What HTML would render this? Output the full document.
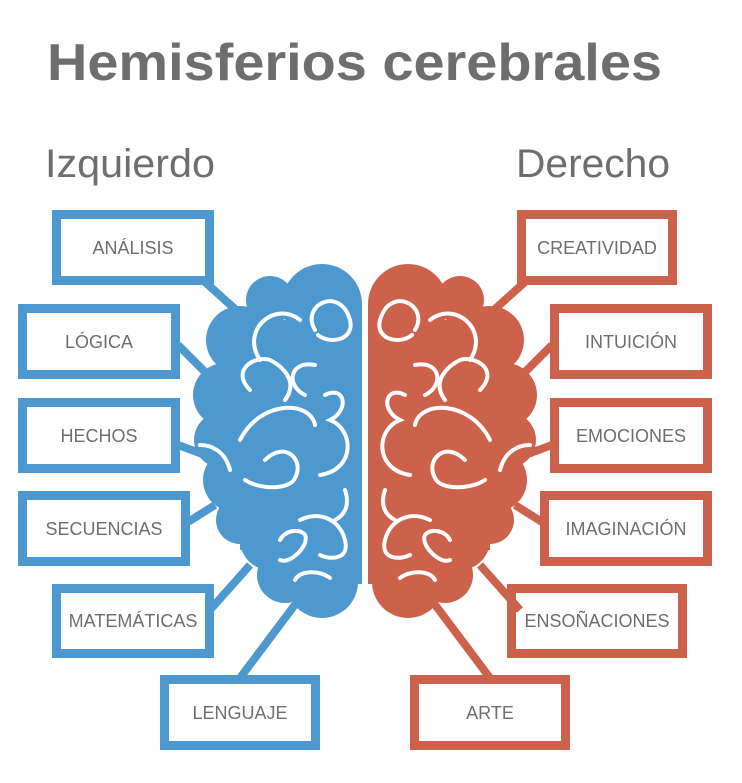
<!DOCTYPE html>
<html><head><meta charset="utf-8"><style>
html,body{margin:0;padding:0;background:#fff;}
svg{display:block;}
text{font-family:"Liberation Sans",sans-serif;fill:#6e6e6e;}
</style></head><body>
<svg width="742" height="783" viewBox="0 0 742 783" xmlns="http://www.w3.org/2000/svg">
<text x="47" y="80" font-size="52" font-weight="bold" textLength="615" lengthAdjust="spacingAndGlyphs" fill="#757575">Hemisferios cerebrales</text>
<text x="45" y="177" font-size="40" textLength="170" lengthAdjust="spacingAndGlyphs">Izquierdo</text>
<text x="516" y="177" font-size="40" textLength="154" lengthAdjust="spacingAndGlyphs">Derecho</text>

<defs>
<clipPath id="half"><rect x="0" y="0" width="362" height="783"/></clipPath>
<g id="brain">
 <g clip-path="url(#half)">
  <circle cx="322" cy="304" r="40"/>
  <circle cx="270" cy="300" r="24"/>
  <circle cx="240" cy="340" r="34"/>
  <circle cx="225" cy="395" r="32"/>
  <circle cx="222" cy="440" r="28"/>
  <circle cx="235" cy="480" r="32"/>
  <circle cx="240" cy="520" r="24"/>
  <circle cx="270" cy="540" r="30"/>
  <circle cx="285" cy="575" r="28"/>
  <circle cx="322" cy="582" r="36"/>
  <rect x="300" y="304" width="62" height="280"/>
  <rect x="240" y="320" width="122" height="230"/>
 </g>
  <g fill="none" stroke="#fff" stroke-width="4" stroke-linecap="round">
    <path d="M315 330 C300 305 340 285 350 320 C355 340 330 345 318 335"/>
    <path d="M260 360 C240 330 275 300 300 320"/>
    <path d="M250 390 C230 370 255 355 270 360 C280 365 300 380 285 400"/>
    <path d="M315 365 C290 360 285 385 305 395"/>
    <path d="M325 395 C345 385 350 410 330 420 C355 430 355 470 320 475"/>
    <path d="M240 440 C260 400 310 400 315 425"/>
    <path d="M230 470 C225 450 210 445 200 445"/>
    <path d="M265 460 C285 440 305 460 295 478 C290 490 260 490 245 480"/>
    <path d="M300 520 C320 510 340 520 345 540 C350 560 330 560 320 555"/>
    <path d="M345 490 C350 505 345 515 335 520"/>
    <path d="M280 540 C285 530 300 528 305 535 C310 545 290 565 280 560"/>
    <path d="M295 580 C300 570 320 570 330 578"/>
  </g>
</g>
</defs>
<use href="#brain" fill="#4c98cf"/>
<use href="#brain" fill="#cd624c" transform="translate(730,0) scale(-1,1)"/>

<g stroke-width="8" fill="none">
<g stroke="#4c98cf">
  <line x1="205" y1="282" x2="245" y2="318"/>
  <line x1="178" y1="345" x2="205" y2="372"/>
  <line x1="178" y1="445" x2="205" y2="455"/>
  <line x1="188" y1="522" x2="215" y2="505"/>
  <line x1="210" y1="610" x2="250" y2="565"/>
  <line x1="240" y1="678" x2="300" y2="598"/>
  <rect x="56.5" y="214.5" width="153" height="66" stroke-width="9"/>
  <rect x="22.5" y="308.5" width="153" height="66" stroke-width="9"/>
  <rect x="22.5" y="402.5" width="153" height="66" stroke-width="9"/>
  <rect x="22.5" y="495.5" width="163" height="66" stroke-width="9"/>
  <rect x="56.5" y="588.5" width="153" height="65" stroke-width="9"/>
  <rect x="164.5" y="679.5" width="151" height="66" stroke-width="9"/>
</g>
<g stroke="#cd624c">
  <line x1="525" y1="282" x2="485" y2="318"/>
  <line x1="552" y1="345" x2="525" y2="372"/>
  <line x1="552" y1="445" x2="525" y2="455"/>
  <line x1="542" y1="522" x2="515" y2="505"/>
  <line x1="520" y1="610" x2="480" y2="565"/>
  <line x1="490" y1="678" x2="430" y2="598"/>
  <rect x="521.5" y="214.5" width="151" height="66" stroke-width="9"/>
  <rect x="554.5" y="308.5" width="153" height="66" stroke-width="9"/>
  <rect x="554.5" y="402.5" width="153" height="66" stroke-width="9"/>
  <rect x="544.5" y="495.5" width="163" height="66" stroke-width="9"/>
  <rect x="511.5" y="588.5" width="171" height="65" stroke-width="9"/>
  <rect x="414.5" y="679.5" width="151" height="66" stroke-width="9"/>
</g>
</g>

<g font-size="18" text-anchor="middle">
<text x="133" y="254">ANÁLISIS</text>
<text x="99" y="348">LÓGICA</text>
<text x="99" y="442">HECHOS</text>
<text x="104" y="535">SECUENCIAS</text>
<text x="133" y="627">MATEMÁTICAS</text>
<text x="240" y="719">LENGUAJE</text>
<text x="597" y="254">CREATIVIDAD</text>
<text x="631" y="348">INTUICIÓN</text>
<text x="631" y="442">EMOCIONES</text>
<text x="626" y="535">IMAGINACIÓN</text>
<text x="597" y="627">ENSOÑACIONES</text>
<text x="490" y="719">ARTE</text>
</g>
</svg>
</body></html>
